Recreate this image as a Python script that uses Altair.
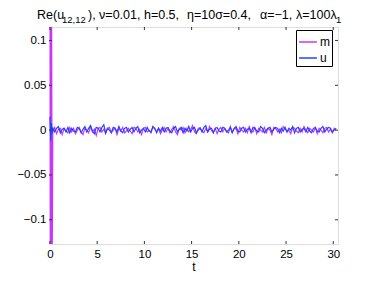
import altair as alt
import pandas as pd

# ---- data (noisy part in units of 1e-3) ----
series_names = ["m", "u"]
spike_t_m = [0.0, 0.08, 0.16, 0.24]
spike_v_m = [0.4, -0.4, 0.2, -0.15]
spike_t_u = [0.0, 0.08, 0.16, 0.24]
spike_v_u = [0.015, -0.012, 0.008, -0.004]

noise_start = 0.3
noise_step = 0.2
m_noise = [-2, 3, -4, 1, 2, -5, 2, -1, -3, 3, -2, 2, -4, 0, 3, -2, -5, 2, 0, -3,
           4, -2, 1, -6, 2, 3, -2, 1, -4, 2, 3, -3, 0, 2, -5, 2, -1, 3, -3, -1,
           2, -1, -4, 3, 2, -2, 1, -5, 2, 3, -2, 0, -3, 4, 1, -2, 2, -4, 0, 3,
           -2, 2, -3, 1, 4, -2, -5, 2, 0, 3, -3, 2, -2, 1, 5, -2, -4, 2, 3, -1,
           -3, 2, -2, 4, 0, -3, 2, -4, 1, 3, -2, 2, -1, -3, 4, -2, 1, 2, -4, 3,
           0, -2, 2, -3, 4, -1, -2, 3, -4, 2, 0, -2, 3, -3, 2, 0, -5, 3, 2, -2,
           1, -3, 4, 2, -2, 0, -4, 3, 2, -1, -3, 2, -2, 4, 0, -3, 2, 0, -2, 3,
           -4, 2, 0, -3, 2, 3, -2, 1, -3, 2, 0]
u_noise = [3, -2, 2, 4, -3, 1, 2, -2, 3, -3, 2, -1, -2, 3, 2, -3, 1, 4, -2, 2,
           5, -1, -4, 3, 2, -2, 3, 6, -3, 2, 0, -3, 3, 2, -2, 4, -1, -3, 2, 3,
           -2, 1, 3, -2, 2, 4, -3, 0, 2, -2, 3, -1, -2, 4, 2, -3, 2, -1, 3, -2,
           2, 3, -1, -3, 2, 4, -2, 1, 3, -3, 2, -1, 4, -2, 2, 3, -3, 0, 2, -2,
           3, 5, -2, 1, 2, -3, 2, 3, -1, -2, 3, 2, -2, 0, 3, -3, 2, 4, -1, -2,
           2, 3, -2, 1, 2, -3, 3, 2, -1, -2, 4, 2, -3, 0, 2, 3, -2, 1, 3, 2,
           -3, 2, -1, 3, -2, 2, 0, 4, -3, 2, 3, -2, 1, 2, -2, 3, -1, -3, 2, 3,
           -1, -2, 2, 4, -2, 1, 3, 2, -2, 0, 2]

x_ticks = [0, 5, 10, 15, 20, 25, 30]
y_ticks = [-0.1, -0.05, 0, 0.05, 0.1]
x_domain = [-0.1, 30.5]
y_domain = [-0.127, 0.115]
colors = ["#cc33ff", "#2244ff"]

title_texts = ["Re(u", "12,12", "), ν=0.01, h=0.5,", "η=10σ=0.4,", "α=−1,", "λ=100λ", "1"]

rows = []
for name, st, sv, noise in [("m", spike_t_m, spike_v_m, m_noise),
                            ("u", spike_t_u, spike_v_u, u_noise)]:
    for t, v in zip(st, sv):
        rows.append({"t": t, "v": v, "series": name})
    for i, v in enumerate(noise):
        rows.append({"t": noise_start + noise_step * i, "v": v / 1000.0, "series": name})
df = pd.DataFrame(rows)

W, H = 289, 217
FONT = "Liberation Sans"

xs = alt.Scale(domain=x_domain, nice=False, zero=False)
ys = alt.Scale(domain=y_domain, nice=False, zero=False)
cs = alt.Scale(domain=series_names, range=colors)

legend = alt.Legend(title=None, orient="none", legendX=247, legendY=3,
                    fillColor="white", strokeColor="#000", padding=2,
                    symbolType="stroke", symbolSize=320, symbolStrokeWidth=1.5,
                    labelFontSize=12, labelFont=FONT, labelOffset=2,
                    rowPadding=-3, labelColor="#000")

xaxis = alt.Axis(values=x_ticks, tickSize=0, domain=False, grid=False, labelPadding=4,
                 labelFontSize=11.5, labelFont=FONT, labelColor="#000",
                 title="t", titleFontSize=12, titleFont=FONT,
                 titleFontWeight="normal", titlePadding=2, titleColor="#000",
                 labelFlush=False)
yaxis = alt.Axis(values=y_ticks, tickSize=0, domain=False, grid=False, labelPadding=3,
                 labelFontSize=11.5, labelFont=FONT, labelColor="#000",
                 format="~g", title=None)

def line_layer(name):
    return alt.Chart(df[df.series == name]).mark_line(strokeWidth=1.2, clip=True).encode(
        x=alt.X("t:Q", scale=xs, axis=xaxis),
        y=alt.Y("v:Q", scale=ys, axis=yaxis),
        color=alt.Color("series:N", scale=cs, legend=legend),
        order="t:Q",
    )

xt = pd.DataFrame({"t": x_ticks})
yt = pd.DataFrame({"v": y_ticks})
tick_col = "#333"
xb = alt.Chart(xt).mark_rule(color=tick_col).encode(x=alt.X("t:Q", scale=xs), y=alt.value(H), y2=alt.value(H - 3))
xtop = alt.Chart(xt).mark_rule(color=tick_col).encode(x=alt.X("t:Q", scale=xs), y=alt.value(0), y2=alt.value(3))
yl = alt.Chart(yt).mark_rule(color=tick_col).encode(y=alt.Y("v:Q", scale=ys), x=alt.value(0), x2=alt.value(3))
yr = alt.Chart(yt).mark_rule(color=tick_col).encode(y=alt.Y("v:Q", scale=ys), x=alt.value(W), x2=alt.value(W - 3))

# title pieces: x in plot-area pixels, subscripts smaller and lowered
title_px = [-12, 13, 39, 138, 211, 247, 287]
title_py = [-8, -4, -8, -8, -8, -8, -4]
title_fs = [12.5, 9.5, 12.5, 12.5, 12.5, 12.5, 9.5]
title_layers = []
for txt, px, py, fs in zip(title_texts, title_px, title_py, title_fs):
    title_layers.append(alt.Chart(pd.DataFrame({"s": [txt]})).mark_text(
        align="left", baseline="alphabetic", fontSize=fs, font=FONT,
        color="#000").encode(text="s:N", x=alt.value(px), y=alt.value(py)))

chart = alt.layer(line_layer("m"), line_layer("u"), xb, xtop, yl, yr, *title_layers).properties(
    width=W, height=H,
    autosize=alt.AutoSizeParams(type="none"),
    padding={"left": 41, "top": 19, "right": 28, "bottom": 29},
).configure_view(stroke="#333", strokeWidth=1).configure(background="white")

chart.save("out.html", embed_options={"renderer": "svg", "actions": False})
